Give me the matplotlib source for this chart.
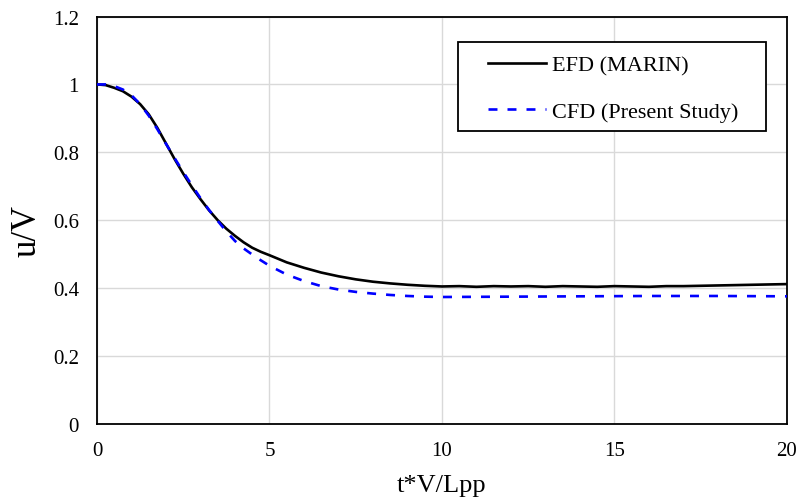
import matplotlib.pyplot as plt
from matplotlib.patches import Rectangle

# values
t_efd = [0, 0.25, 0.5, 0.75, 1, 1.25, 1.5, 1.75, 2, 2.25, 2.5, 2.75, 3, 3.25,
         3.5, 3.75, 4, 4.25, 4.5, 4.75, 5, 5.5, 6, 6.5, 7, 7.5, 8, 8.5,
         9, 9.5, 10, 10.5, 11, 11.5, 12, 12.5, 13, 13.5, 14, 14.5, 15, 15.5, 16,
         16.5, 17, 17.5, 18, 18.5, 19, 19.5, 20]
u_efd = [1.0, 0.998, 0.99, 0.98, 0.964, 0.942, 0.912, 0.872, 0.826, 0.78, 0.737,
         0.697, 0.662, 0.629, 0.6, 0.575, 0.554, 0.535, 0.519, 0.507, 0.497,
         0.476, 0.46, 0.446, 0.435, 0.426, 0.419, 0.414, 0.41, 0.407, 0.405, 0.406,
         0.404, 0.406, 0.405, 0.406, 0.404, 0.406, 0.405, 0.404, 0.406, 0.405,
         0.404, 0.406, 0.406, 0.407, 0.408, 0.409, 0.41, 0.411, 0.412]

t_cfd = [0, 0.25, 0.5, 0.75, 1, 1.25, 1.5, 1.75, 2, 2.25, 2.5, 2.75, 3, 3.25,
         3.5, 3.75, 4, 4.25, 4.5, 4.75, 5, 5.5, 6, 6.5, 7, 7.5, 8, 8.5,
         9, 9.5, 10, 12, 14, 16, 18, 20]
u_cfd = [1.0, 1.0, 0.995, 0.985, 0.968, 0.942, 0.908, 0.868, 0.825, 0.783, 0.742,
         0.703, 0.665, 0.63, 0.598, 0.567, 0.539, 0.517, 0.499, 0.482, 0.466,
         0.44, 0.421, 0.406, 0.396, 0.389, 0.384, 0.38, 0.377, 0.375, 0.374,
         0.375, 0.376, 0.377, 0.377, 0.376]

x_ticks = [0, 5, 10, 15, 20]
y_ticks = [0, 0.2, 0.4, 0.6, 0.8, 1.0, 1.2]
y_labels = ['0', '0.2', '0.4', '0.6', '0.8', '1', '1.2']

plt.rcParams['font.family'] = ['Liberation Serif', 'DejaVu Serif']

fig = plt.figure(figsize=(8.01, 5.02), dpi=100)
ax = fig.add_axes([0.1211, 0.1534, 0.9825 - 0.1211, 0.9651 - 0.1534])

ax.plot(t_efd, u_efd, color='black', lw=1.9, label='EFD (MARIN)', zorder=3)
ax.plot(t_cfd, u_cfd, color='#0000ff', lw=1.9, dashes=(3.4, 3.8),
        label='CFD (Present Study)', zorder=4)

ax.set_xlim(0, 20)
ax.set_ylim(0, 1.2)
ax.set_xticks(x_ticks)
ax.set_yticks(y_ticks)
ax.set_yticklabels(y_labels)
ax.tick_params(axis='both', length=0, labelsize=15)
ax.tick_params(axis='y', pad=13)
ax.tick_params(axis='x', pad=12.5)
ax.grid(True, color='#d9d9d9', lw=1.0)
ax.set_axisbelow(True)
for s in ax.spines.values():
    s.set_color('black')
    s.set_linewidth(1.3)

ax.set_xlabel('t*V/Lpp', fontsize=19)
ax.xaxis.set_label_coords(0.5, -0.1226)
ax.set_ylabel('u/V', fontsize=25)
ax.yaxis.set_label_coords(-0.078, 0.476)

# legend box (frame drawn separately so the padding can differ per side)
ax.add_patch(Rectangle((0.523, 0.719), 0.9696 - 0.523, 0.9374 - 0.719,
                       transform=ax.transAxes, facecolor='white',
                       edgecolor='black', lw=1.3, zorder=5))
leg = ax.legend(loc='upper left', bbox_to_anchor=(0.5667, 0.9055),
                borderaxespad=0, borderpad=0, fontsize=16, handlelength=2.6,
                handletextpad=0.3, labelspacing=1.15, frameon=False)
leg.set_zorder(6)

fig.savefig('out.png', dpi=100)
